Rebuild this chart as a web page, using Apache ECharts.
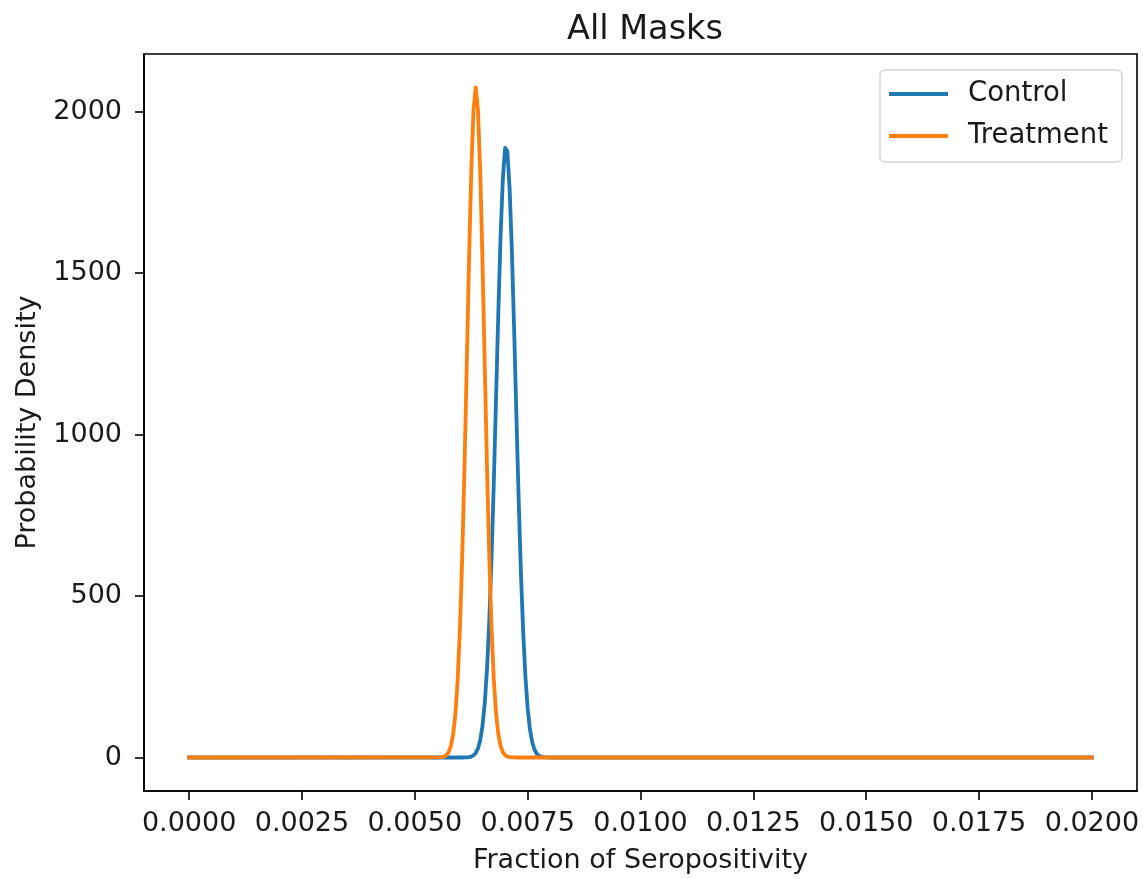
<!DOCTYPE html>
<html>
<head>
<meta charset="utf-8">
<title>All Masks</title>
<script src="https://cdn.jsdelivr.net/npm/echarts@6/dist/echarts.min.js"></script>
<style>
  html, body { margin: 0; padding: 0; background: #fff; }
  #chart { width: 1143px; height: 879px; }
</style>
</head>
<body>
<div id="chart"></div>
<script>
// Fraction of seropositivity sampled along the x axis
const fractionGrid = [
  0.0000,
  0.00550, 0.00555, 0.00560, 0.00565, 0.00570, 0.00575, 0.00580, 0.00585, 0.00590, 0.00595,
  0.00600, 0.00605, 0.00610, 0.00615, 0.00620, 0.00625, 0.00630, 0.00635, 0.00640, 0.00645,
  0.00650, 0.00655, 0.00660, 0.00665, 0.00670, 0.00675, 0.00680, 0.00685, 0.00690, 0.00695,
  0.00700, 0.00705, 0.00710, 0.00715, 0.00720, 0.00725, 0.00730, 0.00735, 0.00740, 0.00745,
  0.00750, 0.00755, 0.00760, 0.00765, 0.00770, 0.00775, 0.00780, 0.00785, 0.00790, 0.00795,
  0.00800,
  0.0200
];

// Probability density of the control group posterior
const controlDensity = [
  0,
  0, 0, 0, 0, 0, 0, 0, 0, 0, 0,
  0, 0, 0.2, 0.5, 1.2, 2.9, 6.6, 14.1, 28.4, 54.4,
  98.7, 169.4, 275.4, 423.9, 617.8, 852.6, 1114.2, 1378.6, 1615.0, 1791.5,
  1888.0, 1878.0, 1762.4, 1571.5, 1327.0, 1060.7, 803.1, 575.5, 390.7, 251.0,
  152.7, 88.0, 48.0, 24.8, 12.1, 5.6, 2.5, 1.0, 0.4, 0.1,
  0,
  0
];

// Probability density of the treatment group posterior
const treatmentDensity = [
  0,
  0.1, 0.4, 1.1, 2.9, 7.1, 16.5, 35.7, 72.3, 136.8, 241.8,
  400.3, 619.1, 895.5, 1211.3, 1531.8, 1811.8, 2003.6, 2075.0, 2003.6, 1811.8,
  1531.8, 1211.3, 895.5, 619.1, 400.3, 241.8, 136.8, 72.3, 35.7, 16.5,
  7.1, 2.9, 1.1, 0.4, 0.1, 0, 0, 0, 0, 0,
  0, 0, 0, 0, 0, 0, 0, 0, 0, 0,
  0,
  0
];

const xTickValues = [0, 0.0025, 0.005, 0.0075, 0.01, 0.0125, 0.015, 0.0175, 0.02];
const yTickValues = [0, 500, 1000, 1500, 2000];

const seriesNames = ['Control', 'Treatment'];
const seriesColors = ['#1f77b4', '#ff7f0e'];

const pairs = (ys) => fractionGrid.map((x, i) => [x, ys[i]]);

const FONT = '"DejaVu Sans", "Liberation Sans", sans-serif';
const INK = '#1a1a1a';
const FS = 27;

const chart = echarts.init(document.getElementById('chart'), null, { renderer: 'canvas' });

chart.setOption({
  animation: false,
  backgroundColor: '#fff',
  textStyle: { fontFamily: FONT },
  title: {
    text: 'All Masks',
    left: 640,
    textAlign: 'center',
    top: 8,
    textStyle: { fontFamily: FONT, fontSize: 33.5, fontWeight: 'normal', color: INK }
  },
  legend: {
    orient: 'vertical',
    left: 880,
    top: 70,
    padding: [9, 14, 11, 9],
    itemGap: 12,
    itemWidth: 59,
    itemHeight: 4,
    icon: 'rect',
    backgroundColor: '#fff',
    borderColor: '#d6d6d6',
    borderWidth: 1.5,
    borderRadius: 5,
    data: seriesNames,
    textStyle: {
      fontFamily: FONT, fontSize: 27.5, color: INK,
      lineHeight: 30, padding: [0, 0, 0, 15]
    }
  },
  grid: {
    left: 144, right: 6, top: 54, bottom: 85,
    show: true, borderColor: '#000', borderWidth: 1.6,
    backgroundColor: 'transparent'
  },
  xAxis: {
    type: 'value',
    min: -0.001,
    max: 0.021,
    name: 'Fraction of Seropositivity',
    nameLocation: 'middle',
    nameGap: 56,
    nameTextStyle: { fontFamily: FONT, fontSize: FS, color: INK },
    axisLine: { show: true, onZero: false, lineStyle: { color: '#000', width: 1.6 } },
    axisTick: { show: true, customValues: xTickValues, length: 9, lineStyle: { color: '#000', width: 1.6 } },
    axisLabel: {
      customValues: xTickValues,
      margin: 19,
      fontFamily: FONT, fontSize: FS, color: INK,
      formatter: (v) => v.toFixed(4)
    },
    splitLine: { show: false }
  },
  yAxis: {
    type: 'value',
    min: -103.75,
    max: 2178.75,
    name: 'Probability Density',
    nameLocation: 'middle',
    nameGap: 103,
    nameTextStyle: { fontFamily: FONT, fontSize: FS, color: INK },
    axisLine: { show: true, onZero: false, lineStyle: { color: '#000', width: 1.6 } },
    axisTick: { show: true, customValues: yTickValues, length: 9, lineStyle: { color: '#000', width: 1.6 } },
    axisLabel: {
      customValues: yTickValues,
      margin: 22,
      fontFamily: FONT, fontSize: FS, color: INK,
      formatter: (v) => String(Math.round(v))
    },
    splitLine: { show: false }
  },
  series: [
    {
      name: seriesNames[0],
      type: 'line',
      data: pairs(controlDensity),
      showSymbol: false,
      symbol: 'none',
      color: seriesColors[0],
      lineStyle: { color: seriesColors[0], width: 3.8, cap: 'square', join: 'round' },
      z: 2
    },
    {
      name: seriesNames[1],
      type: 'line',
      data: pairs(treatmentDensity),
      showSymbol: false,
      symbol: 'none',
      color: seriesColors[1],
      lineStyle: { color: seriesColors[1], width: 3.8, cap: 'square', join: 'round' },
      z: 3
    }
  ]
});
</script>
</body>
</html>
